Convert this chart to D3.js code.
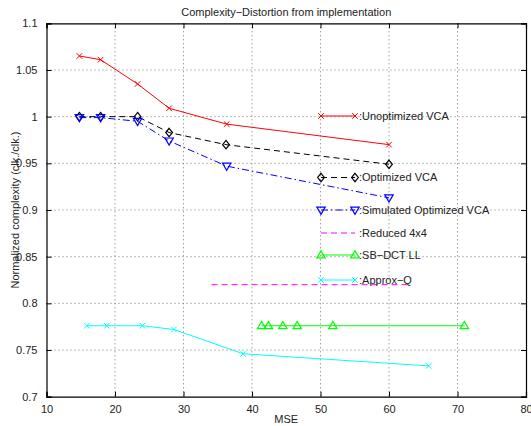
<!DOCTYPE html>
<html>
<head>
<meta charset="utf-8">
<script src="https://cdn.jsdelivr.net/npm/d3@7"></script>
<style>
  body { margin: 0; background: #fff; }
  svg { font-family: "Liberation Sans", Arial, Helvetica, sans-serif; }
</style>
</head>
<body>
<svg id="chart" width="531" height="426"></svg>
<script>
var xTicks = [10, 20, 30, 40, 50, 60, 70, 80]
var yTicks = [0.7, 0.75, 0.8, 0.85, 0.9, 0.95, 1, 1.05, 1.1]

var unoptX = [14.8, 17.9, 23.3, 27.9, 36.3, 60]
var unoptY = [1.065, 1.061, 1.035, 1.009, 0.992, 0.970]

var optX = [14.8, 17.9, 23.3, 27.9, 36.2, 60]
var optY = [1.0, 1.0, 1.0, 0.983, 0.970, 0.949]

var simX = [14.8, 17.9, 23.3, 27.9, 36.3, 60]
var simY = [0.999, 0.999, 0.995, 0.974, 0.947, 0.913]

var redX = [34.1, 63.3]
var redY = [0.82, 0.82]

var sbX = [41.4, 42.4, 44.5, 46.6, 51.8, 71.0]
var sbY = [0.776, 0.776, 0.776, 0.776, 0.776, 0.776]

var apxX = [15.9, 18.8, 24.0, 28.6, 38.7, 65.8]
var apxY = [0.776, 0.776, 0.776, 0.772, 0.746, 0.733]

main()

function main() {
  var LEFT = 46.5, RIGHT = 526, TOP = 23.3, BOTTOM = 396.7
  var svg = d3.select('#chart')

  var x = d3.scaleLinear().domain([10, 80]).range([LEFT, RIGHT])
  var y = d3.scaleLinear().domain([0.7, 1.1]).range([BOTTOM, TOP])

  var series = [
    {name: "Unoptimized VCA", xs: unoptX, ys: unoptY, color: "#ff0000", dash: null, marker: "x", ly: 116},
    {name: "Optimized VCA", xs: optX, ys: optY, color: "#000000", dash: "6,4", marker: "diamond", ly: 177.5},
    {name: "Simulated Optimized VCA", xs: simX, ys: simY, color: "#0000ff", dash: "7,3,1.5,3", marker: "down", ly: 210},
    {name: "Reduced 4x4", xs: redX, ys: redY, color: "#ff00ff", dash: "6,4", marker: null, ly: 233},
    {name: "SB\u2212DCT LL", xs: sbX, ys: sbY, color: "#00ff00", dash: null, marker: "up", ly: 255},
    {name: "Approx\u2212Q", xs: apxX, ys: apxY, color: "#00ffff", dash: null, marker: "x", ly: 280}
  ]

  // grid
  var grid = svg.append('g')
  grid.selectAll('line.gx')
      .data(xTicks.slice(1, -1))
      .enter().append('line')
      .attr("x1", d => x(d)).attr("x2", d => x(d))
      .attr("y1", TOP).attr("y2", BOTTOM)
      .attr("stroke", "#555").attr("stroke-width", 0.8)
      .attr("stroke-dasharray", "1,3")
  grid.selectAll('line.gy')
      .data(yTicks.slice(1, -1))
      .enter().append('line')
      .attr("y1", d => y(d)).attr("y2", d => y(d))
      .attr("x1", LEFT).attr("x2", RIGHT)
      .attr("stroke", "#555").attr("stroke-width", 0.8)
      .attr("stroke-dasharray", "1,3")

  // axes with inward ticks
  var axB = svg.append('g').attr("transform", "translate(0," + BOTTOM + ")")
      .call(d3.axisBottom(x).tickValues(xTicks).tickSize(-5).tickPadding(9).tickFormat(d3.format("d")))
  var axT = svg.append('g').attr("transform", "translate(0," + TOP + ")")
      .call(d3.axisTop(x).tickValues(xTicks).tickSize(-5).tickFormat(""))
  var axL = svg.append('g').attr("transform", "translate(" + LEFT + ",0)")
      .call(d3.axisLeft(y).tickValues(yTicks).tickSize(-5).tickPadding(9).tickFormat(d => d3.format("")(+d.toFixed(2))))
  var axR = svg.append('g').attr("transform", "translate(" + RIGHT + ",0)")
      .call(d3.axisRight(y).tickValues(yTicks).tickSize(-5).tickFormat(""))
  ;[axB, axT, axL, axR].forEach(function(a) {
    a.select('.domain').attr("stroke", "#000").attr("stroke-width", 1.2)
    a.selectAll('.tick line').attr("stroke", "#000")
    a.selectAll('text').attr("font-size", 11).attr("fill", "#222")
      .style("font-family", '"Liberation Sans", Arial, sans-serif')
  })

  // series lines and markers
  var line = d3.line().x(d => x(d[0])).y(d => y(d[1]))
  series.forEach(function(s) {
    var pts = s.xs.map((v, i) => [v, s.ys[i]])
    svg.append('path')
        .attr("d", line(pts))
        .attr("fill", "none")
        .attr("stroke", s.color)
        .attr("stroke-width", 1)
        .attr("stroke-dasharray", s.dash)
    pts.forEach(function(p) { drawMarker(svg, s.marker, x(p[0]), y(p[1]), s.color) })
  })

  // legend (no box, inside axes)
  var LX1 = 321, LX2 = 355, LTX = 359
  series.forEach(function(s) {
    svg.append('line')
        .attr("x1", LX1).attr("x2", LX2)
        .attr("y1", s.ly).attr("y2", s.ly)
        .attr("stroke", s.color)
        .attr("stroke-width", 1)
        .attr("stroke-dasharray", s.dash)
    drawMarker(svg, s.marker, LX1, s.ly, s.color)
    drawMarker(svg, s.marker, LX2, s.ly, s.color)
    svg.append('text')
        .attr("x", LTX).attr("y", s.ly)
        .attr("dy", "0.35em")
        .attr("font-size", 11)
        .attr("fill", "#222")
        .text(":" + s.name)
  })

  // titles
  svg.append('text')
      .attr("x", (LEFT + RIGHT) / 2).attr("y", 12)
      .attr("dy", "0.35em")
      .attr("text-anchor", "middle")
      .attr("font-size", 11)
      .attr("fill", "#222")
      .text("Complexity\u2212Distortion from implementation")
  svg.append('text')
      .attr("x", (LEFT + RIGHT) / 2).attr("y", 419)
      .attr("dy", "0.35em")
      .attr("text-anchor", "middle")
      .attr("font-size", 11)
      .attr("fill", "#222")
      .text("MSE")
  svg.append('text')
      .attr("transform", "translate(15," + ((TOP + BOTTOM) / 2) + ") rotate(-90)")
      .attr("dy", "0.35em")
      .attr("text-anchor", "middle")
      .attr("font-size", 11)
      .attr("fill", "#222")
      .text("Normalized complexity (clk./clk.)")
}

function drawMarker(svg, type, cx, cy, color) {
  if (!type) return
  var r = 3.5
  if (type == "x") {
    r = 2.8
    svg.append('path')
        .attr("d", "M" + (cx - r) + "," + (cy - r) + "L" + (cx + r) + "," + (cy + r) +
                   "M" + (cx - r) + "," + (cy + r) + "L" + (cx + r) + "," + (cy - r))
        .attr("stroke", color).attr("stroke-width", 1).attr("fill", "none")
  } else if (type == "diamond") {
    r = 4.2
    svg.append('path')
        .attr("d", "M" + cx + "," + (cy - r) + "L" + (cx + r * 0.8) + "," + cy + "L" + cx + "," + (cy + r) +
                   "L" + (cx - r * 0.8) + "," + cy + "Z")
        .attr("stroke", color).attr("stroke-width", 1.2).attr("fill", "none")
  } else if (type == "down") {
    r = 4.2
    svg.append('path')
        .attr("d", "M" + (cx - r) + "," + (cy - r * 0.7) + "L" + (cx + r) + "," + (cy - r * 0.7) + "L" + cx + "," + (cy + r) + "Z")
        .attr("stroke", color).attr("stroke-width", 1.2).attr("fill", "none")
  } else if (type == "up") {
    r = 4.2
    svg.append('path')
        .attr("d", "M" + (cx - r) + "," + (cy + r * 0.7) + "L" + (cx + r) + "," + (cy + r * 0.7) + "L" + cx + "," + (cy - r) + "Z")
        .attr("stroke", color).attr("stroke-width", 1.2).attr("fill", "none")
  }
}
</script>
</body>
</html>
